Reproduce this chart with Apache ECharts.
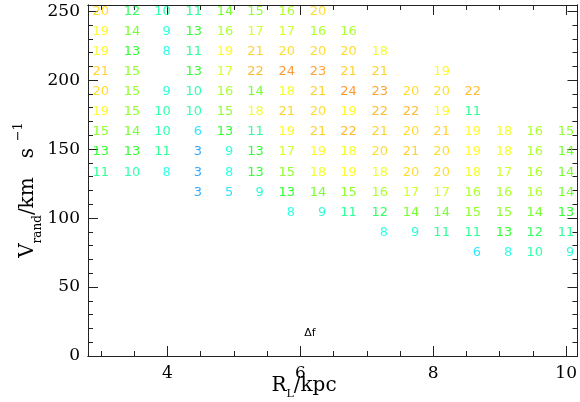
<!DOCTYPE html>
<html>
<head>
<meta charset="utf-8">
<script src="https://cdn.jsdelivr.net/npm/echarts@6/dist/echarts.min.js"></script>
<style>
html,body{margin:0;padding:0;background:#fff;}
#chart{width:580px;height:402px;}
</style>
</head>
<body>
<div id="chart"></div>
<script>
// Column (R_L, kpc) and row (V_rand, km/s) positions of the cells
const xCols = [3.00, 3.47, 3.93, 4.40, 4.87, 5.33, 5.80, 6.27, 6.73, 7.20, 7.67, 8.13, 8.60, 9.07, 9.53, 10.00];
const yRows = [250, 235.4, 220.8, 206.3, 191.7, 177.1, 162.5, 147.9, 133.3, 118.8, 104.2, 89.6, 75.0];
const N = null;
// Cell values (Δf), one array per row, top row first
const row250 = [20,12,10,11,14,15,16,20,N,N,N,N,N,N,N,N];
const row235 = [19,14,9,13,16,17,17,16,16,N,N,N,N,N,N,N];
const row221 = [19,13,8,11,19,21,20,20,20,18,N,N,N,N,N,N];
const row206 = [21,15,N,13,17,22,24,23,21,21,N,19,N,N,N,N];
const row192 = [20,15,9,10,16,14,18,21,24,23,20,20,22,N,N,N];
const row177 = [19,15,10,10,15,18,21,20,19,22,22,19,11,N,N,N];
const row163 = [15,14,10,6,13,11,19,21,22,21,20,21,19,18,16,15];
const row148 = [13,13,11,3,9,13,17,19,18,20,21,20,19,18,16,14];
const row133 = [11,10,8,3,8,13,15,18,19,18,20,20,18,17,16,14];
const row119 = [N,N,N,3,5,9,13,14,15,16,17,17,16,16,16,14];
const row104 = [N,N,N,N,N,N,8,9,11,12,14,14,15,15,14,13];
const row90  = [N,N,N,N,N,N,N,N,N,8,9,11,11,13,12,11];
const row75  = [N,N,N,N,N,N,N,N,N,N,N,N,6,8,10,9];
const rows = [row250,row235,row221,row206,row192,row177,row163,row148,row133,row119,row104,row90,row75];

// Tick values
const xMajor = [4, 6, 8, 10];
const xMinor = [3, 3.5, 4.5, 5, 5.5, 6.5, 7, 7.5, 8.5, 9, 9.5];
const yMajor = [0, 50, 100, 150, 200, 250];
const yMinor = [10,20,30,40,60,70,80,90,110,120,130,140,160,170,180,190,210,220,230,240];

// colour map (value -> hue)
const hueV = [3,5,6,8,9,10,11,12,13,14,15,16,17,18,19,20,21,22,23,24];
const hueH = [205,190,188,172,168,156,150,135,120,100,92,84,74,64,58,50,47,40,33,30];
function colorOf(v){
  let h = hueH[hueH.length-1];
  for (let i=0;i<hueV.length-1;i++){
    if (v>=hueV[i] && v<=hueV[i+1]){
      h = hueH[i] + (hueH[i+1]-hueH[i])*(v-hueV[i])/(hueV[i+1]-hueV[i]);
      break;
    }
  }
  if (v<hueV[0]) h = hueH[0];
  return 'hsl(' + h.toFixed(0) + ',100%,50%)';
}

const data = [];
rows.forEach((r, ri) => {
  r.forEach((v, ci) => {
    if (v === null) return;
    data.push({value:[xCols[ci], yRows[ri], v], label:{color: colorOf(v)}});
  });
});

const XMIN = 2.805, XMAX = 10.17, YMIN = 0, YMAX = 254.5;
const lineC = '#222';
function xAx(pos, ticks, len, labels){
  return {
    type:'value', min:XMIN, max:XMAX, position:pos,
    axisLine:{show:true, onZero:false, lineStyle:{color:lineC, width:1}},
    axisTick:{show:true, inside:true, length:len, customValues:ticks, lineStyle:{color:lineC, width:1}},
    axisLabel:labels ? {show:true, customValues:ticks, margin:9, color:'#000',
      fontFamily:'DejaVu Serif', fontSize:17} : {show:false},
    splitLine:{show:false}
  };
}
function yAx(pos, ticks, len, labels){
  return {
    type:'value', min:YMIN, max:YMAX, position:pos,
    axisLine:{show:true, onZero:false, lineStyle:{color:lineC, width:1}},
    axisTick:{show:true, inside:true, length:len, customValues:ticks, lineStyle:{color:lineC, width:1}},
    axisLabel:labels ? {show:true, customValues:ticks, margin:8, color:'#000',
      fontFamily:'DejaVu Serif', fontSize:17} : {show:false},
    splitLine:{show:false}
  };
}

const chart = echarts.init(document.getElementById('chart'), null, {renderer:'canvas'});
chart.setOption({
  animation:false,
  backgroundColor:'#fff',
  grid:{left:88, right:1, top:5, bottom:46, containLabel:false},
  xAxis:[
    xAx('bottom', xMajor, 10, true),
    xAx('bottom', xMinor, 5, false),
    xAx('top', xMajor, 10, false),
    xAx('top', xMinor, 5, false)
  ],
  yAxis:[
    yAx('left', yMajor, 10, true),
    yAx('left', yMinor, 5, false),
    yAx('right', yMajor, 10, false),
    yAx('right', yMinor, 5, false)
  ],
  series:[{
    type:'scatter', xAxisIndex:0, yAxisIndex:0,
    symbolSize:1, itemStyle:{color:'rgba(0,0,0,0)'},
    label:{show:true, position:'inside', align:'right', verticalAlign:'middle', offset:[8,0],
      fontFamily:'DejaVu Sans', fontSize:13,
      formatter: p => String(p.value[2])},
    data:data
  }],
  graphic:[
    {type:'text', x:304, y:386, style:{
      text:'{m|R}{s|L}{m|/kpc}', align:'center', verticalAlign:'middle',
      rich:{
        m:{fontFamily:'DejaVu Serif', fontSize:20, fill:'#000', lineHeight:28},
        s:{fontFamily:'DejaVu Serif', fontSize:11, fill:'#000', lineHeight:28, verticalAlign:'bottom'}
      }}},
    {type:'text', x:28, y:190, rotation:Math.PI/2, style:{
      text:'{m|V}{s|rand}{m|/km   s}  {p|−1}', align:'center', verticalAlign:'middle',
      rich:{
        m:{fontFamily:'DejaVu Serif', fontSize:20, fill:'#000', lineHeight:32},
        s:{fontFamily:'DejaVu Serif', fontSize:12, fill:'#000', lineHeight:32, verticalAlign:'bottom'},
        p:{fontFamily:'DejaVu Serif', fontSize:13, fill:'#000', lineHeight:32, verticalAlign:'top'}
      }}},
    {type:'text', x:310, y:333, style:{text:'Δf', align:'center', verticalAlign:'middle',
      fontFamily:'DejaVu Sans', fontSize:11, fill:'#000'}}
  ]
});
</script>
</body>
</html>
